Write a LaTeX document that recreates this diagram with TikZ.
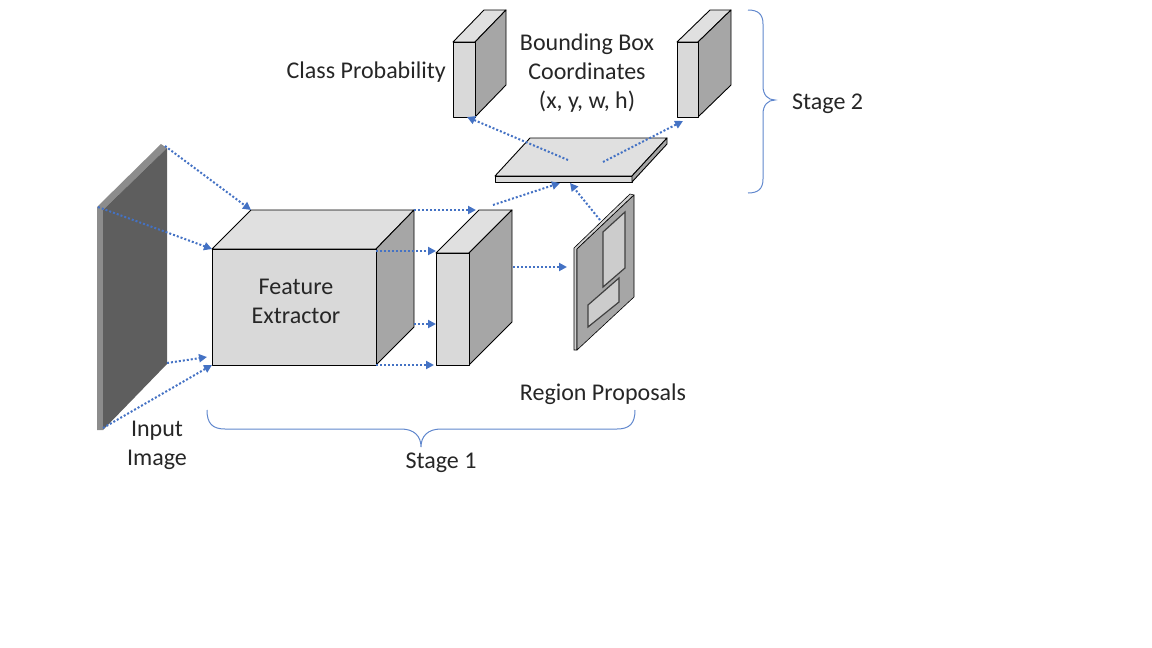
\documentclass[tikz,border=0pt]{standalone}
\usepackage{fontspec}
\setmainfont{Carlito}
\usetikzlibrary{arrows.meta}
\definecolor{flowblue}{HTML}{4472C4}
\definecolor{txt}{HTML}{262626}
\tikzset{
  front/.style ={draw=black,line width=0.9pt,line join=round,fill=black!15},
  top/.style   ={draw=black,line width=0.9pt,line join=round,fill=black!12},
  side/.style  ={draw=black,line width=0.9pt,line join=round,fill=black!35},
  flow/.style  ={flowblue,line width=2pt,dash pattern=on 2pt off 2pt,
                 -{Triangle[length=8pt,width=8pt]}},
  brc/.style   ={flowblue!85,line width=1pt},
  lbl/.style   ={font=\fontsize{24}{29}\selectfont,text=txt,align=center,inner sep=0pt},
}
\begin{document}
\begin{tikzpicture}[x=1pt,y=-1pt]
  \useasboundingbox (0,0) rectangle (1152,648);
  % input image
  \fill[black!45] (97,207) -- (161,144) -- (167,148) -- (103,210) -- (103,430) -- (97,430) -- cycle;
  \fill[black!63] (103,210) -- (167,148) -- (167,364) -- (103,430) -- cycle;
  \coordinate (inTL) at (98,207); \coordinate (inTR) at (165,146);
  \coordinate (inBR) at (167,363); \coordinate (inBL) at (103,428);
  % feature extractor
  \draw[top]  (212,249) -- (251,210) -- (414,210) -- (376,249) -- cycle;
  \draw[side] (376,249) -- (414,210) -- (414,327) -- (376,365) -- cycle;
  \draw[front] (212,249) rectangle (376,365);
  \coordinate (feTL) at (212,249); \coordinate (feBL) at (212,365);
  \coordinate (feBack) at (251,210); \coordinate (feBL2) at (207,357);
  \node[lbl] (fe) at (296,301) {Feature\\Extractor};
  % feature map
  \draw[top]  (436,253) -- (479,210) -- (512,210) -- (469,253) -- cycle;
  \draw[side] (469,253) -- (512,210) -- (512,322) -- (469,365) -- cycle;
  \draw[front] (436,253) rectangle (469,365);
  % region proposals
  \fill[black!18,draw=black,line width=0.6pt] (574,248) -- (630,194) -- (634,195) -- (577,249) -- (577,350) -- (574,350) -- cycle;
  \draw[side,line width=0.6pt] (577,249) -- (634,195) -- (634,297) -- (577,350) -- cycle;
  \draw[fill=black!20,draw=black!75,line width=1.2pt] (603,232) -- (625,212) -- (625,268) -- (603,287) -- cycle;
  \draw[fill=black!20,draw=black!75,line width=1.2pt] (588,305) -- (619,278) -- (619,302) -- (588,327) -- cycle;
  \node[lbl] (rp) at (603,394) {Region Proposals};
  % roi plate
  \draw[top]  (495,176) -- (530,138) -- (667,138) -- (632,176) -- cycle;
  \draw[front] (495,176) rectangle (632,182);
  \draw[side] (632,176) -- (667,138) -- (667,144) -- (632,182) -- cycle;
  % class probability
  \draw[top]  (453,42) -- (484,10) -- (506,10) -- (475,42) -- cycle;
  \draw[side] (475,42) -- (506,10) -- (506,85) -- (475,117) -- cycle;
  \draw[front] (453,42) rectangle (475,117);
  \node[lbl,anchor=east] (cp) at (446,72) {Class Probability};
  % bounding box coordinates
  \draw[top]  (677,42) -- (710,10) -- (731,10) -- (698,42) -- cycle;
  \draw[side] (698,42) -- (731,10) -- (731,85) -- (698,117) -- cycle;
  \draw[front] (677,42) rectangle (698,117);
  \node[lbl] (bb) at (587,73) {Bounding Box\\Coordinates\\(x, y, w, h)};
  % labels
  \node[lbl] (img) at (157,445) {Input\\Image};
  \node[lbl] (s1) at (441,463) {Stage 1};
  \node[lbl,anchor=west] (s2) at (792,104) {Stage 2};
  % braces
  \draw[brc] (207,410) .. controls (207,423) and (212,429) .. (225,429) -- (401,429)
    .. controls (414,429) and (421,436) .. (421,447) .. controls (421,436) and (428,429) .. (441,429)
    -- (617,429) .. controls (630,429) and (635,423) .. (635,410);
  \draw[brc] (748,10) .. controls (758,10) and (763,14) .. (763,24) -- (763,86)
    .. controls (763,95) and (768,100) .. (775,100) .. controls (768,100) and (763,105) .. (763,114)
    -- (763,179) .. controls (763,189) and (758,193) .. (748,193);
  % connectors
  \coordinate (c1a) at (414,210); \coordinate (c1b) at (476,210);
  \coordinate (c2a) at (376,251); \coordinate (c2b) at (436,251);
  \coordinate (c3a) at (414,324); \coordinate (c3b) at (436,324);
  \coordinate (c4a) at (376,365); \coordinate (c4b) at (434,365);
  \coordinate (fmTop) at (493,205); \coordinate (plBot1) at (560,183);
  \coordinate (fmSide) at (513,267); \coordinate (rpIn) at (567,267);
  \coordinate (rpTop) at (600,220); \coordinate (plBot2) at (570,183);
  \coordinate (plA) at (568,160); \coordinate (cpIn) at (467,117);
  \coordinate (plB) at (603,162); \coordinate (bbIn) at (683,121);
  \draw[flow] (inTR) -- (feBack);
  \draw[flow] (inTL) -- (feTL);
  \draw[flow] (inBR) -- (feBL2);
  \draw[flow] (inBL) -- (feBL);
  \draw[flow] (c1a) -- (c1b);
  \draw[flow] (c2a) -- (c2b);
  \draw[flow] (c3a) -- (c3b);
  \draw[flow] (c4a) -- (c4b);
  \draw[flow] (fmTop) -- (plBot1);
  \draw[flow] (fmSide) -- (rpIn);
  \draw[flow] (rpTop) -- (plBot2);
  \draw[flow] (plA) -- (cpIn);
  \draw[flow] (plB) -- (bbIn);
\end{tikzpicture}
\end{document}
